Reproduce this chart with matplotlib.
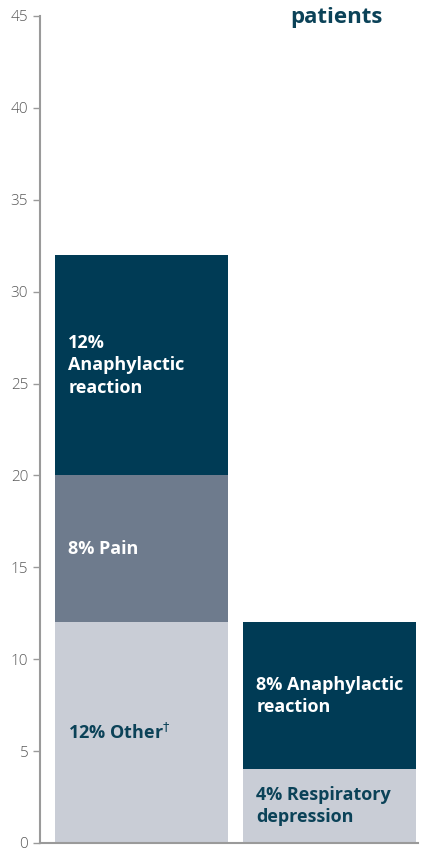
import matplotlib.pyplot as plt

# stacked segments, bottom to top
bar_pos = [0, 1]
segments = [
    # (bar index, value, label, colour key)
    (0, 12, "12% Other$^{\\dagger}$", "light"),
    (0, 8, "8% Pain", "mid"),
    (0, 12, "12%\nAnaphylactic\nreaction", "dark"),
    (1, 4, "4% Respiratory\ndepression", "light"),
    (1, 8, "8% Anaphylactic\nreaction", "dark"),
]
yticks = [0, 5, 10, 15, 20, 25, 30, 35, 40, 45]

COLORS = {"dark": "#003b55", "mid": "#6e7b8d", "light": "#c9cdd6"}
TEXT_COLORS = {"dark": "white", "mid": "white", "light": "#0b4258"}

plt.rcParams['font.family'] = ['Open Sans', 'DejaVu Sans']

fig = plt.figure(figsize=(4.22, 8.51), dpi=100)
ax = fig.add_axes([40 / 422, 8 / 851, 378 / 422, 827 / 851])

width = 0.92
bottoms = [0, 0]
for b, val, label, key in segments:
    ax.bar(bar_pos[b], val, width=width, bottom=bottoms[b], color=COLORS[key],
           align='center', linewidth=0)
    ax.text(bar_pos[b] - width / 2 + 0.07, bottoms[b] + val / 2, label,
            color=TEXT_COLORS[key], fontsize=13, fontweight='bold',
            va='center', ha='left', linespacing=1.32)
    bottoms[b] += val

ax.set_xlim(-0.54, 1.47)
ax.set_ylim(0, 45)
ax.set_yticks(yticks)
ax.set_xticks([])
for s in ['top', 'right']:
    ax.spines[s].set_visible(False)
for s in ['left', 'bottom']:
    ax.spines[s].set_color('#9a9a9a')
    ax.spines[s].set_linewidth(1.5)
ax.tick_params(axis='y', colors='#9a9a9a', labelcolor='#5a5a5a', labelsize=11,
               length=5, width=1)
for t in ax.get_yticklabels():
    t.set_fontweight('light')

fig.text(336 / 422, 1 - 18 / 851, "patients", color='#0b4258', fontsize=16,
         fontweight='bold', ha='center', va='center')

fig.savefig('out.png', dpi=100)
